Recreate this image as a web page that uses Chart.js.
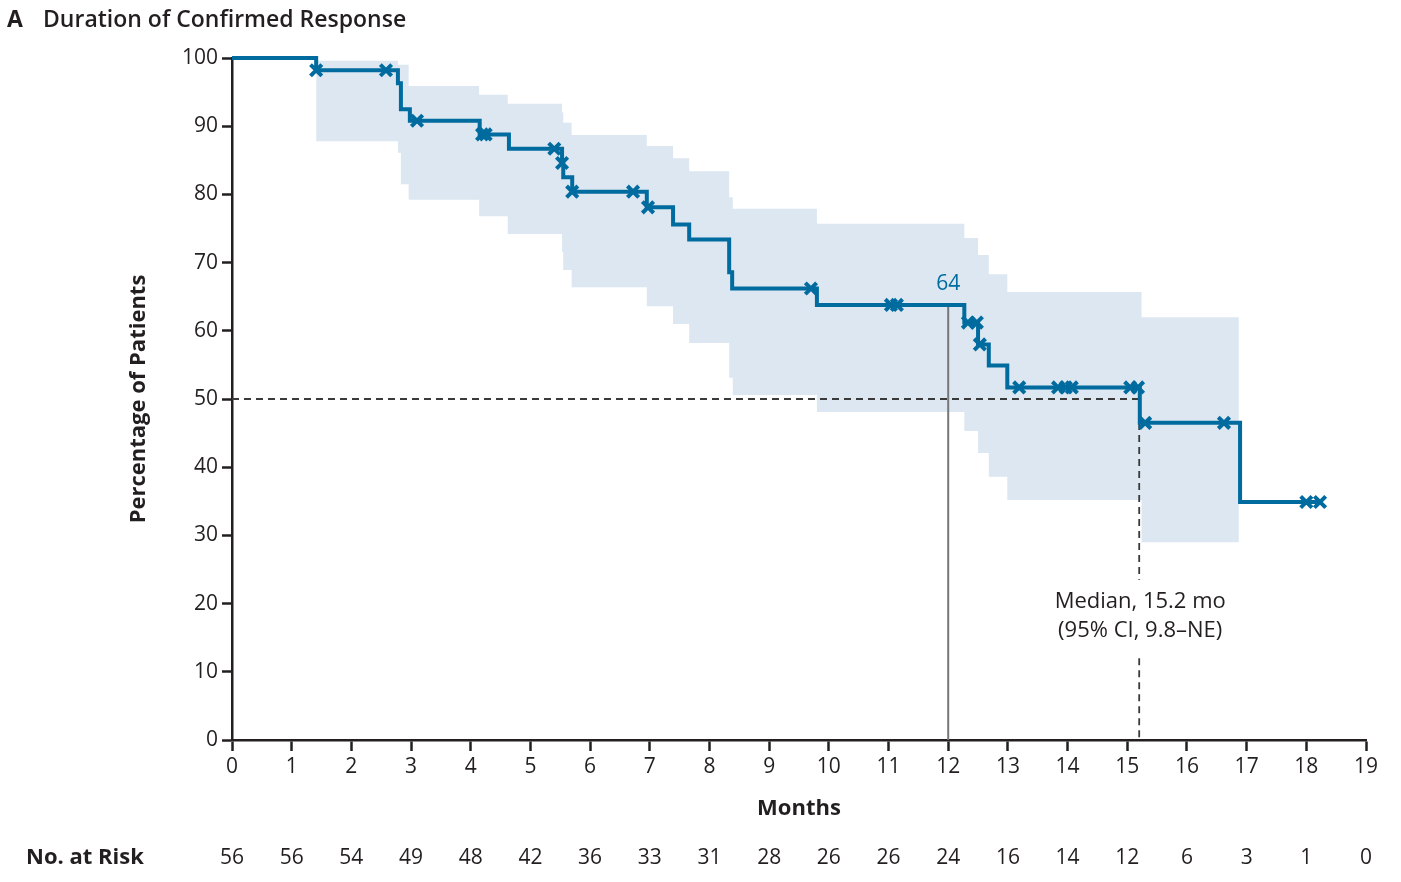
<!DOCTYPE html>
<html>
<head>
<meta charset="utf-8">
<script src="https://cdn.jsdelivr.net/npm/chart.js@4.4.1/dist/chart.umd.min.js"></script>
<style>
    html, body { margin: 0; padding: 0; background: #fff; }
    #wrap { width: 1401px; height: 882px; position: relative; }
</style>
</head>
<body>
<div id="wrap"><canvas id="kmChart"></canvas></div>
<script>
// Kaplan-Meier curve (months, percent)
const kmTime = [0, 1.41, 2.78, 2.83, 2.98, 4.15, 4.64, 5.53, 5.55, 5.70, 6.95, 7.39, 7.66, 8.33, 8.38, 9.80, 12.27, 12.50, 12.68, 12.99, 15.21, 16.89, 18.23];
const kmPct = [100, 98.2, 96.3, 92.5, 90.8, 88.8, 86.7, 84.6, 82.5, 80.4, 78.1, 75.6, 73.4, 68.6, 66.2, 63.8, 61.2, 58.0, 54.9, 51.7, 46.5, 34.9, 34.9];

// censored observations
const censorTime = [1.41, 2.58, 3.10, 4.19, 4.25, 5.40, 5.53, 5.70, 6.72, 6.97, 9.70, 11.04, 11.14, 12.33, 12.48, 12.53, 13.19, 13.84, 13.97, 14.07, 15.05, 15.18, 15.30, 16.62, 18.00, 18.23];
const censorPct = [98.2, 98.2, 90.8, 88.8, 88.8, 86.7, 84.6, 80.4, 80.4, 78.1, 66.2, 63.8, 63.8, 61.2, 61.2, 58.0, 51.7, 51.7, 51.7, 51.7, 51.7, 51.7, 46.5, 46.5, 34.9, 34.9];

// 95% confidence band
const ciTime = [1.41, 2.78, 2.83, 2.96, 4.14, 4.62, 5.53, 5.55, 5.69, 6.95, 7.39, 7.66, 8.33, 8.39, 9.80, 12.27, 12.50, 12.68, 12.99, 15.24, 16.87];
const ciUpper = [99.6, 99.0, 99.0, 95.9, 94.6, 93.3, 92.0, 90.5, 88.7, 87.1, 85.3, 83.4, 79.6, 77.9, 75.7, 73.6, 71.1, 68.3, 65.7, 62.0, 62.0];
const ciLower = [87.8, 86.1, 81.5, 79.2, 76.8, 74.2, 71.6, 68.9, 66.4, 63.6, 61.0, 58.2, 53.1, 50.6, 48.1, 45.3, 42.1, 38.6, 35.2, 29.0, 29.0];

const riskMonths = [0, 1, 2, 3, 4, 5, 6, 7, 8, 9, 10, 11, 12, 13, 14, 15, 16, 17, 18, 19];
const atRisk = [56, 56, 54, 49, 48, 42, 36, 33, 31, 28, 26, 26, 24, 16, 14, 12, 6, 3, 1, 0];

const medianMonths = 15.2;
const landmarkMonths = 12;
const landmarkPct = 63.8;
const landmarkLabel = '64';
const medianText = ['Median, 15.2 mo', '(95% CI, 9.8\u2013NE)'];

const blue = '#006b9f';
const band = '#dce7f1';
const ink = '#231f20';
const fontFamily = '"Open Sans", "Noto Sans", sans-serif';

function pts(xs, ys) {
    return xs.map((x, i) => ({ x: x, y: ys[i] }));
}

const textPlugin = {
    id: 'textPlugin',
    afterDatasetsDraw(chart) {
        const ctx = chart.ctx;
        const xs = chart.scales.x;
        const ys = chart.scales.y;
        ctx.save();

        // landmark label
        ctx.fillStyle = blue;
        ctx.font = '21px ' + fontFamily;
        ctx.textAlign = 'center';
        ctx.textBaseline = 'middle';
        ctx.fillText(landmarkLabel, xs.getPixelForValue(landmarkMonths), ys.getPixelForValue(landmarkPct) - 21);

        // median annotation
        ctx.fillStyle = ink;
        ctx.font = '22px ' + fontFamily;
        const mx = xs.getPixelForValue(medianMonths) + 1;
        ctx.fillText(medianText[0], mx, ys.getPixelForValue(20.3));
        ctx.fillText(medianText[1], mx, ys.getPixelForValue(16.0));
        ctx.restore();
    },
    afterDraw(chart) {
        const ctx = chart.ctx;
        const xs = chart.scales.x;
        ctx.save();
        ctx.fillStyle = ink;
        ctx.textBaseline = 'middle';

        // panel title
        ctx.textAlign = 'left';
        ctx.font = 'bold 23px ' + fontFamily;
        ctx.fillText('A', 7, 20);
        ctx.font = '600 23px ' + fontFamily;
        ctx.fillText('Duration of Confirmed Response', 43, 20);

        // number at risk row
        ctx.font = 'bold 22px ' + fontFamily;
        ctx.fillText('No. at Risk', 26, 858);
        ctx.font = '21px ' + fontFamily;
        ctx.textAlign = 'center';
        riskMonths.forEach((m, i) => {
            ctx.fillText(String(atRisk[i]), xs.getPixelForValue(m), 858);
        });
        ctx.restore();
    }
};

const ctx = document.getElementById('kmChart').getContext('2d');
new Chart(ctx, {
    type: 'line',
    data: {
        datasets: [
            {
                label: 'Censored',
                type: 'scatter',
                data: pts(censorTime, censorPct),
                pointStyle: 'crossRot',
                pointRadius: 8,
                pointBorderWidth: 4,
                borderColor: blue,
                backgroundColor: blue,
                clip: 10,
                order: 0
            },
            {
                label: 'Duration of response',
                data: pts(kmTime, kmPct),
                stepped: 'before',
                borderColor: blue,
                borderWidth: 4,
                pointRadius: 0,
                fill: false,
                clip: 6,
                order: 1
            },
            {
                label: 'Median',
                data: [{ x: 0, y: 50 }, { x: medianMonths, y: 50 }, { x: medianMonths, y: null },
                       { x: medianMonths, y: 50 }, { x: medianMonths, y: 23.5 }, { x: medianMonths, y: null },
                       { x: medianMonths, y: 12.0 }, { x: medianMonths, y: 0 }],
                borderColor: '#3a3a3a',
                borderWidth: 1.8,
                borderDash: [7, 5],
                pointRadius: 0,
                spanGaps: false,
                fill: false,
                order: 2
            },
            {
                label: 'Landmark',
                data: [{ x: landmarkMonths, y: landmarkPct }, { x: landmarkMonths, y: 0 }],
                borderColor: '#777777',
                borderWidth: 2,
                pointRadius: 0,
                fill: false,
                order: 3
            },
            {
                label: 'CI lower',
                data: pts(ciTime, ciLower),
                stepped: 'before',
                borderWidth: 0,
                borderColor: band,
                pointRadius: 0,
                fill: false,
                order: 5
            },
            {
                label: 'CI upper',
                data: pts(ciTime, ciUpper),
                stepped: 'before',
                borderWidth: 0,
                borderColor: band,
                backgroundColor: band,
                pointRadius: 0,
                fill: 4,
                order: 4
            }
        ]
    },
    options: {
        responsive: true,
        maintainAspectRatio: false,
        animation: false,
        layout: { padding: { top: 58, right: 35, bottom: 42, left: 0 } },
        plugins: {
            legend: { display: false },
            tooltip: { enabled: false }
        },
        scales: {
            x: {
                type: 'linear',
                min: 0,
                max: 19,
                afterFit: function(scale) { scale.height = 100; },
                ticks: {
                    stepSize: 1,
                    color: ink,
                    padding: 3,
                    font: { family: fontFamily, size: 21 }
                },
                grid: {
                    drawOnChartArea: false,
                    tickLength: 11,
                    tickColor: ink,
                    tickWidth: 2.5
                },
                border: { color: ink, width: 2.5 },
                title: {
                    display: true,
                    text: 'Months',
                    color: ink,
                    font: { family: fontFamily, size: 22, weight: 'bold' },
                    padding: { top: 0, bottom: 18 }
                }
            },
            y: {
                min: 0,
                max: 100,
                afterFit: function(scale) { scale.width = 232; },
                ticks: {
                    stepSize: 10,
                    color: ink,
                    padding: 4,
                    font: { family: fontFamily, size: 21 }
                },
                grid: {
                    drawOnChartArea: false,
                    tickLength: 10,
                    tickColor: ink,
                    tickWidth: 2.5
                },
                border: { color: ink, width: 2.5 },
                title: {
                    display: true,
                    text: 'Percentage of Patients',
                    color: ink,
                    font: { family: fontFamily, size: 22, weight: 'bold' },
                    padding: { top: 126, bottom: 0 }
                }
            }
        }
    },
    plugins: [textPlugin]
});
</script>
</body>
</html>
